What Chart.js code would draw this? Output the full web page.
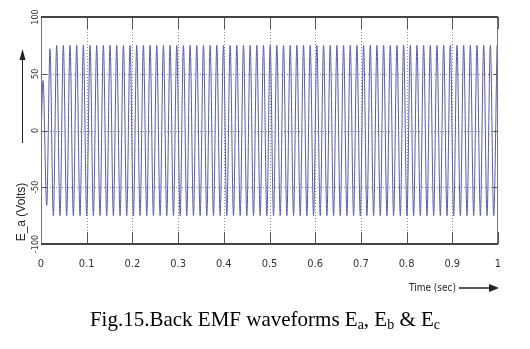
<!DOCTYPE html>
<html>
<head>
<meta charset="utf-8">
<script src="https://cdn.jsdelivr.net/npm/chart.js@4"></script>
<style>
  html, body { margin: 0; padding: 0; background: #fff; }
  #wrap { position: relative; width: 530px; height: 349px; overflow: hidden; }
  #emfChart { position: absolute; left: 0; top: 0; }
  #caption {
    position: absolute; left: 0; top: 307px; width: 530px;
    text-align: center; line-height: 24px;
    font-family: 'Liberation Serif', 'Times New Roman', serif;
    font-size: 21px; color: #000; white-space: nowrap;
  }
  #caption sub { font-size: 14px; line-height: 0; vertical-align: -3px; }
</style>
</head>
<body>
<div id="wrap">
  <canvas id="emfChart" width="530" height="349"></canvas>
  <div id="caption">Fig.15.Back EMF waveforms E<sub>a</sub>, E<sub>b</sub> &amp; E<sub>c</sub></div>
</div>
<script>
// peaks / troughs of the back EMF (time in s, volts)
const timeSec = [
  0, 0.0044, 0.0125,
  0.0197, 0.0270, 0.0343, 0.0416, 0.0489, 0.0562, 0.0635, 0.0708, 0.0781, 0.0854,
  0.0927, 0.1000, 0.1073, 0.1146, 0.1219, 0.1292, 0.1365, 0.1438, 0.1511, 0.1584,
  0.1657, 0.1730, 0.1803, 0.1876, 0.1949, 0.2022, 0.2095, 0.2168, 0.2241, 0.2314,
  0.2387, 0.2460, 0.2533, 0.2606, 0.2679, 0.2752, 0.2825, 0.2898, 0.2971, 0.3044,
  0.3117, 0.3190, 0.3263, 0.3336, 0.3409, 0.3482, 0.3555, 0.3628, 0.3701, 0.3774,
  0.3847, 0.3920, 0.3993, 0.4066, 0.4139, 0.4212, 0.4285, 0.4358, 0.4431, 0.4504,
  0.4577, 0.4650, 0.4723, 0.4796, 0.4869, 0.4942, 0.5015, 0.5088, 0.5161, 0.5234,
  0.5307, 0.5380, 0.5453, 0.5526, 0.5599, 0.5672, 0.5745, 0.5818, 0.5891, 0.5964,
  0.6037, 0.6110, 0.6183, 0.6256, 0.6329, 0.6402, 0.6475, 0.6548, 0.6621, 0.6694,
  0.6767, 0.6840, 0.6913, 0.6986, 0.7059, 0.7132, 0.7205, 0.7278, 0.7351, 0.7424,
  0.7497, 0.7570, 0.7643, 0.7716, 0.7789, 0.7862, 0.7935, 0.8008, 0.8081, 0.8154,
  0.8227, 0.8300, 0.8373, 0.8446, 0.8519, 0.8592, 0.8665, 0.8738, 0.8811, 0.8884,
  0.8957, 0.9030, 0.9103, 0.9176, 0.9249, 0.9322, 0.9395, 0.9468, 0.9541, 0.9614,
  0.9687, 0.9760, 0.9833, 0.9906, 0.9979
];
const emfVolts = [
  -10, 44, -66, 72,
  -75, 75, -75, 75, -75, 75, -75, 75, -75, 75,
  -75, 75, -75, 75, -75, 75, -75, 75, -75, 75,
  -75, 75, -75, 75, -75, 75, -75, 75, -75, 75,
  -75, 75, -75, 75, -75, 75, -75, 75, -75, 75,
  -75, 75, -75, 75, -75, 75, -75, 75, -75, 75,
  -75, 75, -75, 75, -75, 75, -75, 75, -75, 75,
  -75, 75, -75, 75, -75, 75, -75, 75, -75, 75,
  -75, 75, -75, 75, -75, 75, -75, 75, -75, 75,
  -75, 75, -75, 75, -75, 75, -75, 75, -75, 75,
  -75, 75, -75, 75, -75, 75, -75, 75, -75, 75,
  -75, 75, -75, 75, -75, 75, -75, 75, -75, 75,
  -75, 75, -75, 75, -75, 75, -75, 75, -75, 75,
  -75, 75, -75, 75, -75, 75, -75, 75, -75, 75,
  -75, 75, -75, 75
];
const xTickValues = [0, 0.1, 0.2, 0.3, 0.4, 0.5, 0.6, 0.7, 0.8, 0.9, 1];
const xTickLabels = ['0', '0.1', '0.2', '0.3', '0.4', '0.5', '0.6', '0.7', '0.8', '0.9', '1'];
const yTickValues = [-100, -50, 0, 50, 100];
const yTickLabels = ['-100', '-50', '0', '50', '100'];

const narrow = "'Liberation Sans Narrow', 'DejaVu Sans Condensed', 'Liberation Sans', sans-serif";

// matlab style frame: dotted grid, inward ticks, heavy top/bottom edges
const framePlugin = {
  id: 'frame',
  beforeDatasetsDraw(chart) {
    const { ctx, chartArea: a, scales: { x, y } } = chart;
    ctx.save();
    ctx.strokeStyle = '#8a8a8a';
    ctx.lineWidth = 1;
    ctx.setLineDash([1, 2]);
    xTickValues.slice(1, -1).forEach(v => {
      const px = Math.round(x.getPixelForValue(v)) + 0.5;
      ctx.beginPath(); ctx.moveTo(px, a.top); ctx.lineTo(px, a.bottom); ctx.stroke();
    });
    yTickValues.slice(1, -1).forEach(v => {
      const py = Math.round(y.getPixelForValue(v)) + 0.5;
      ctx.beginPath(); ctx.moveTo(a.left, py); ctx.lineTo(a.right, py); ctx.stroke();
    });
    ctx.restore();
  },
  afterDatasetsDraw(chart) {
    const { ctx, chartArea: a, scales: { x, y } } = chart;
    ctx.save();
    ctx.strokeStyle = '#555';
    ctx.lineWidth = 1;
    xTickValues.forEach(v => {
      const px = Math.round(x.getPixelForValue(v)) + 0.5;
      ctx.beginPath(); ctx.moveTo(px, a.top); ctx.lineTo(px, a.top + 12); ctx.stroke();
      ctx.beginPath(); ctx.moveTo(px, a.bottom); ctx.lineTo(px, a.bottom - 12); ctx.stroke();
    });
    yTickValues.forEach(v => {
      const py = Math.round(y.getPixelForValue(v)) + 0.5;
      ctx.beginPath(); ctx.moveTo(a.left, py); ctx.lineTo(a.left + 6, py); ctx.stroke();
      ctx.beginPath(); ctx.moveTo(a.right, py); ctx.lineTo(a.right - 5, py); ctx.stroke();
    });
    // side edges
    ctx.strokeStyle = '#777';
    ctx.beginPath();
    ctx.moveTo(Math.round(a.left) + 0.5, a.top); ctx.lineTo(Math.round(a.left) + 0.5, a.bottom);
    ctx.moveTo(Math.round(a.right) - 0.5, a.top); ctx.lineTo(Math.round(a.right) - 0.5, a.bottom);
    ctx.stroke();
    // top and bottom edges
    ctx.strokeStyle = '#444';
    ctx.lineWidth = 2;
    ctx.beginPath();
    ctx.moveTo(a.left, a.top); ctx.lineTo(a.right, a.top);
    ctx.moveTo(a.left, a.bottom); ctx.lineTo(a.right, a.bottom);
    ctx.stroke();
    ctx.restore();
  },
  afterDraw(chart) {
    const { ctx } = chart;
    ctx.save();
    ctx.fillStyle = '#222';
    ctx.strokeStyle = '#222';
    // y axis name + arrow
    ctx.save();
    ctx.translate(22, 212);
    ctx.rotate(-Math.PI / 2);
    ctx.font = "12px 'Liberation Sans', Arial, sans-serif";
    ctx.textAlign = 'center';
    ctx.textBaseline = 'middle';
    ctx.fillText('E_a (Volts)', 0, 0);
    ctx.restore();
    ctx.lineWidth = 1;
    ctx.beginPath(); ctx.moveTo(22.5, 143); ctx.lineTo(22.5, 58); ctx.stroke();
    ctx.beginPath(); ctx.moveTo(22.5, 49); ctx.lineTo(19.5, 60); ctx.lineTo(25.5, 60); ctx.closePath(); ctx.fill();
    // x axis name + arrow
    ctx.font = "ultra-condensed 10px " + narrow;
    ctx.textAlign = 'right';
    ctx.textBaseline = 'middle';
    ctx.fillText('Time (sec)', 456, 288);
    ctx.lineWidth = 1.5;
    ctx.beginPath(); ctx.moveTo(459, 288); ctx.lineTo(490, 288); ctx.stroke();
    ctx.beginPath(); ctx.moveTo(499, 288); ctx.lineTo(489, 284); ctx.lineTo(489, 292); ctx.closePath(); ctx.fill();
    ctx.restore();
  }
};

new Chart(document.getElementById('emfChart'), {
  type: 'line',
  data: {
    datasets: [{
      data: timeSec.map((t, i) => ({ x: t, y: emfVolts[i] })),
      borderColor: '#5a5aaa',
      borderWidth: 1,
      pointRadius: 0,
      cubicInterpolationMode: 'monotone',
      fill: false
    }]
  },
  options: {
    responsive: false,
    animation: false,
    layout: { padding: { left: 0, top: 17, right: 32, bottom: 0 } },
    plugins: { legend: { display: false }, tooltip: { enabled: false } },
    scales: {
      x: {
        type: 'linear',
        min: 0, max: 1,
        grid: { display: false },
        border: { display: false },
        afterBuildTicks: s => { s.ticks = xTickValues.map(v => ({ value: v })); },
        afterFit: s => { s.height = 105; },
        ticks: {
          autoSkip: false,
          maxRotation: 0,
          padding: 6,
          color: '#333',
          font: { family: narrow, size: 11, weight: 'ultra-condensed' },
          callback: (v, i) => xTickLabels[i]
        }
      },
      y: {
        min: -100, max: 100,
        grid: { display: false, drawTicks: false },
        border: { display: false },
        afterBuildTicks: s => { s.ticks = yTickValues.map(v => ({ value: v })); },
        afterFit: s => { s.width = 41; },
        ticks: {
          autoSkip: false,
          minRotation: 90, maxRotation: 90,
          crossAlign: 'center',
          padding: -4,
          color: '#333',
          font: { family: narrow, size: 9, weight: 'ultra-condensed' },
          callback: (v, i) => yTickLabels[i]
        }
      }
    }
  },
  plugins: [framePlugin]
});
</script>
</body>
</html>
